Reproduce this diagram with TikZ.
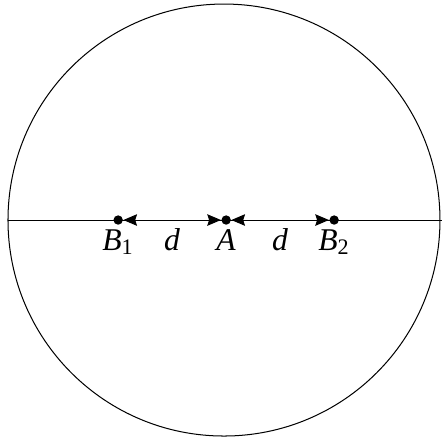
\documentclass[tikz,border=0pt]{standalone}
\usepackage{fontspec}
\setmainfont{Liberation Serif}
\usetikzlibrary{arrows.meta,positioning,calc}
\tikzset{
diskline/.style={line width=0.4pt, draw=black},
pointdot/.style={circle, fill=black, inner sep=0pt, minimum size=0.13cm},
distarrow/.style={{Stealth[length=0.19cm, width=0.16cm, inset=0.025cm]}-{Stealth[length=0.19cm, width=0.16cm, inset=0.025cm]}, line width=0.4pt},
pointlabel/.style={inner sep=0pt, text height=8.5pt, text depth=3pt, font=\fontsize{12.5}{15}\selectfont\itshape}
}
\begin{document}
\begin{tikzpicture}[x=1cm, y=1cm]
  \useasboundingbox (-3.111,-3.083) rectangle (3.028,3.056);
  \coordinate (o) at (0,0);
  \draw[diskline] (o) circle (3);
  \coordinate (west) at (-3,0);
  \coordinate (east) at (3.028,0);
  \draw[diskline] (west) -- (east);
  \node[pointdot] (b1) at (-1.47,0) {};
  \node[pointdot] (a) at (0.03,0) {};
  \node[pointdot] (b2) at (1.53,0) {};
  \draw[distarrow] (b1) -- (a);
  \draw[distarrow] (a) -- (b2);
  \node[pointlabel, below=0.04cm of b1] (lb1) {B\textsubscript{\upshape 1}};
  \node[pointlabel, below=0.04cm of a] (la) {A};
  \node[pointlabel, below=0.04cm of b2] (lb2) {B\textsubscript{\upshape 2}};
  \node[pointlabel, anchor=north] (d1) at ($(lb1.north)!0.5!(la.north)$) {d};
  \node[pointlabel, anchor=north] (d2) at ($(la.north)!0.5!(lb2.north)$) {d};
\end{tikzpicture}
\end{document}
